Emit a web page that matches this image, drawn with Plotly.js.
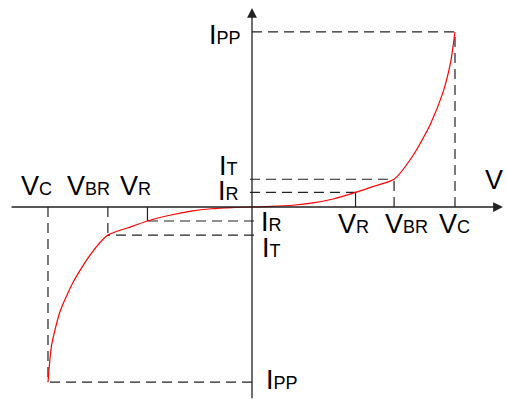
<!DOCTYPE html>
<html>
<head>
<meta charset="utf-8">
<script src="https://cdn.plot.ly/plotly-3.0.1.min.js"></script>
<style>html,body{margin:0;padding:0;background:#fff;}#chart{width:507px;height:399px;}</style>
</head>
<body>
<div id="chart"></div>
<script>
// Forward (positive) branch of the TVS I-V curve
const vPos = [0, 1.0, 2.0, 3.0, 4.0, 5.1, 6.0, 7.0, 7.95, 8.77, 9.42, 9.79, 10.0];
const iPos = [0, 0.04, 0.12, 0.28, 0.55, 1.0, 1.42, 1.9, 3.56, 5.62, 7.9, 9.95, 12.0];
// Reverse (negative) branch
const vNeg = [0, -1.0, -2.0, -3.0, -4.0, -5.15, -6.1, -7.1, -7.98, -8.8, -9.46, -9.87, -10.05];
const iNeg = [0, -0.04, -0.12, -0.28, -0.55, -0.96, -1.42, -1.92, -3.29, -5.12, -7.17, -9.45, -12.0];

// Key points
const vR = 5.1, vBR = 7.0, vC = 10.0, iR = 1.0, iT = 1.9, iPP = 12.0;
const vRn = -5.15, vBRn = -7.1, vCn = -10.05, iRn = -0.96, iTn = -1.92, iPPn = -12.0;

// Axis extents
const xMin = -11.92, xMax = 12.36, yMin = -13.2, yMax = 13.63;

const FONT = 'Liberation Sans, Arial, sans-serif';
const BIG = 27, SMALL = 18;
function lbl(main, sub) {
  return main + (sub ? '<span style="font-size:' + SMALL + 'px">' + sub + '</span>' : '');
}

const traces = [
  {x: vPos, y: iPos, mode: 'lines', line: {color: '#ff0000', width: 1.2, shape: 'spline', smoothing: 0.6}, hoverinfo: 'skip'},
  {x: vNeg, y: iNeg, mode: 'lines', line: {color: '#ff0000', width: 1.2, shape: 'spline', smoothing: 0.6}, hoverinfo: 'skip'}
];

const dashStyle = {color: '#222', width: 1.2, dash: '10px,6px'};
const solidStyle = {color: '#222', width: 1.2};
function seg(x0, y0, x1, y1, line) {
  return {type: 'line', xref: 'x', yref: 'y', x0: x0, y0: y0, x1: x1, y1: y1, line: line, layer: 'below'};
}
const shapes = [
  // positive side
  seg(vR, 0, vR, iR, solidStyle),
  seg(vBR, 0, vBR, iT, dashStyle),
  seg(vC, 0, vC, iPP, dashStyle),
  seg(-0.1, iR, vR, iR, dashStyle),
  seg(-0.1, iT, vBR, iT, dashStyle),
  seg(0, iPP, vC, iPP, dashStyle),
  // negative side
  seg(vRn, 0, vRn, iRn, solidStyle),
  seg(vBRn, 0, vBRn, iTn, dashStyle),
  seg(vCn, 0, vCn, iPPn, dashStyle),
  seg(0.1, iRn, vRn, iRn, dashStyle),
  seg(0.1, iTn, vBRn, iTn, dashStyle),
  seg(0, iPPn, vCn, iPPn, dashStyle)
];

function txt(x, y, text, xs, ys) {
  return {x: x, y: y, xref: 'x', yref: 'y', text: text, showarrow: false, xanchor: 'center', yanchor: 'middle',
          xshift: xs, yshift: ys, font: {family: FONT, size: BIG, color: '#000'}};
}
function axisArrow(x, y, ax, ay) {
  return {x: x, y: y, ax: ax, ay: ay, xref: 'x', yref: 'y', axref: 'x', ayref: 'y', text: '', showarrow: true,
          arrowhead: 2, arrowsize: 1.5, arrowwidth: 1.3, arrowcolor: '#222', standoff: 0, startstandoff: 0};
}

const annotations = [
  axisArrow(xMax, 0, xMin, 0),
  axisArrow(0, yMax, 0, yMin),
  txt(xMax, 0, 'V', -9, 27),
  // negative-side voltage labels
  txt(vCn, 0, lbl('V', 'C'), -11, 21),
  txt(vBRn, 0, lbl('V', 'BR'), -19, 21),
  txt(vRn, 0, lbl('V', 'R'), -12, 21),
  // positive-side voltage labels
  txt(vR, 0, lbl('V', 'R'), -2, -17),
  txt(vBR, 0, lbl('V', 'BR'), 12, -17),
  txt(vC, 0, lbl('V', 'C'), 0, -17),
  // current labels
  txt(0, iT, lbl('I', 'T'), -24, 13),
  txt(0, iR, lbl('I', 'R'), -24, 1),
  txt(0, iRn, lbl('I', 'R'), 19, -1),
  txt(0, iTn, lbl('I', 'T'), 19, -13),
  txt(0, iPP, lbl('I', 'PP'), -27, -3),
  txt(0, iPPn, lbl('I', 'PP'), 30, 2)
];

const layout = {
  width: 507, height: 399,
  margin: {l: 0, r: 0, t: 0, b: 0},
  paper_bgcolor: '#fff', plot_bgcolor: '#fff',
  showlegend: false,
  xaxis: {range: [-12.414, 12.562], visible: false, fixedrange: true},
  yaxis: {range: [-13.151, 14.178], visible: false, fixedrange: true},
  shapes: shapes,
  annotations: annotations
};

Plotly.newPlot('chart', traces, layout, {staticPlot: true, displayModeBar: false});
</script>
</body>
</html>
